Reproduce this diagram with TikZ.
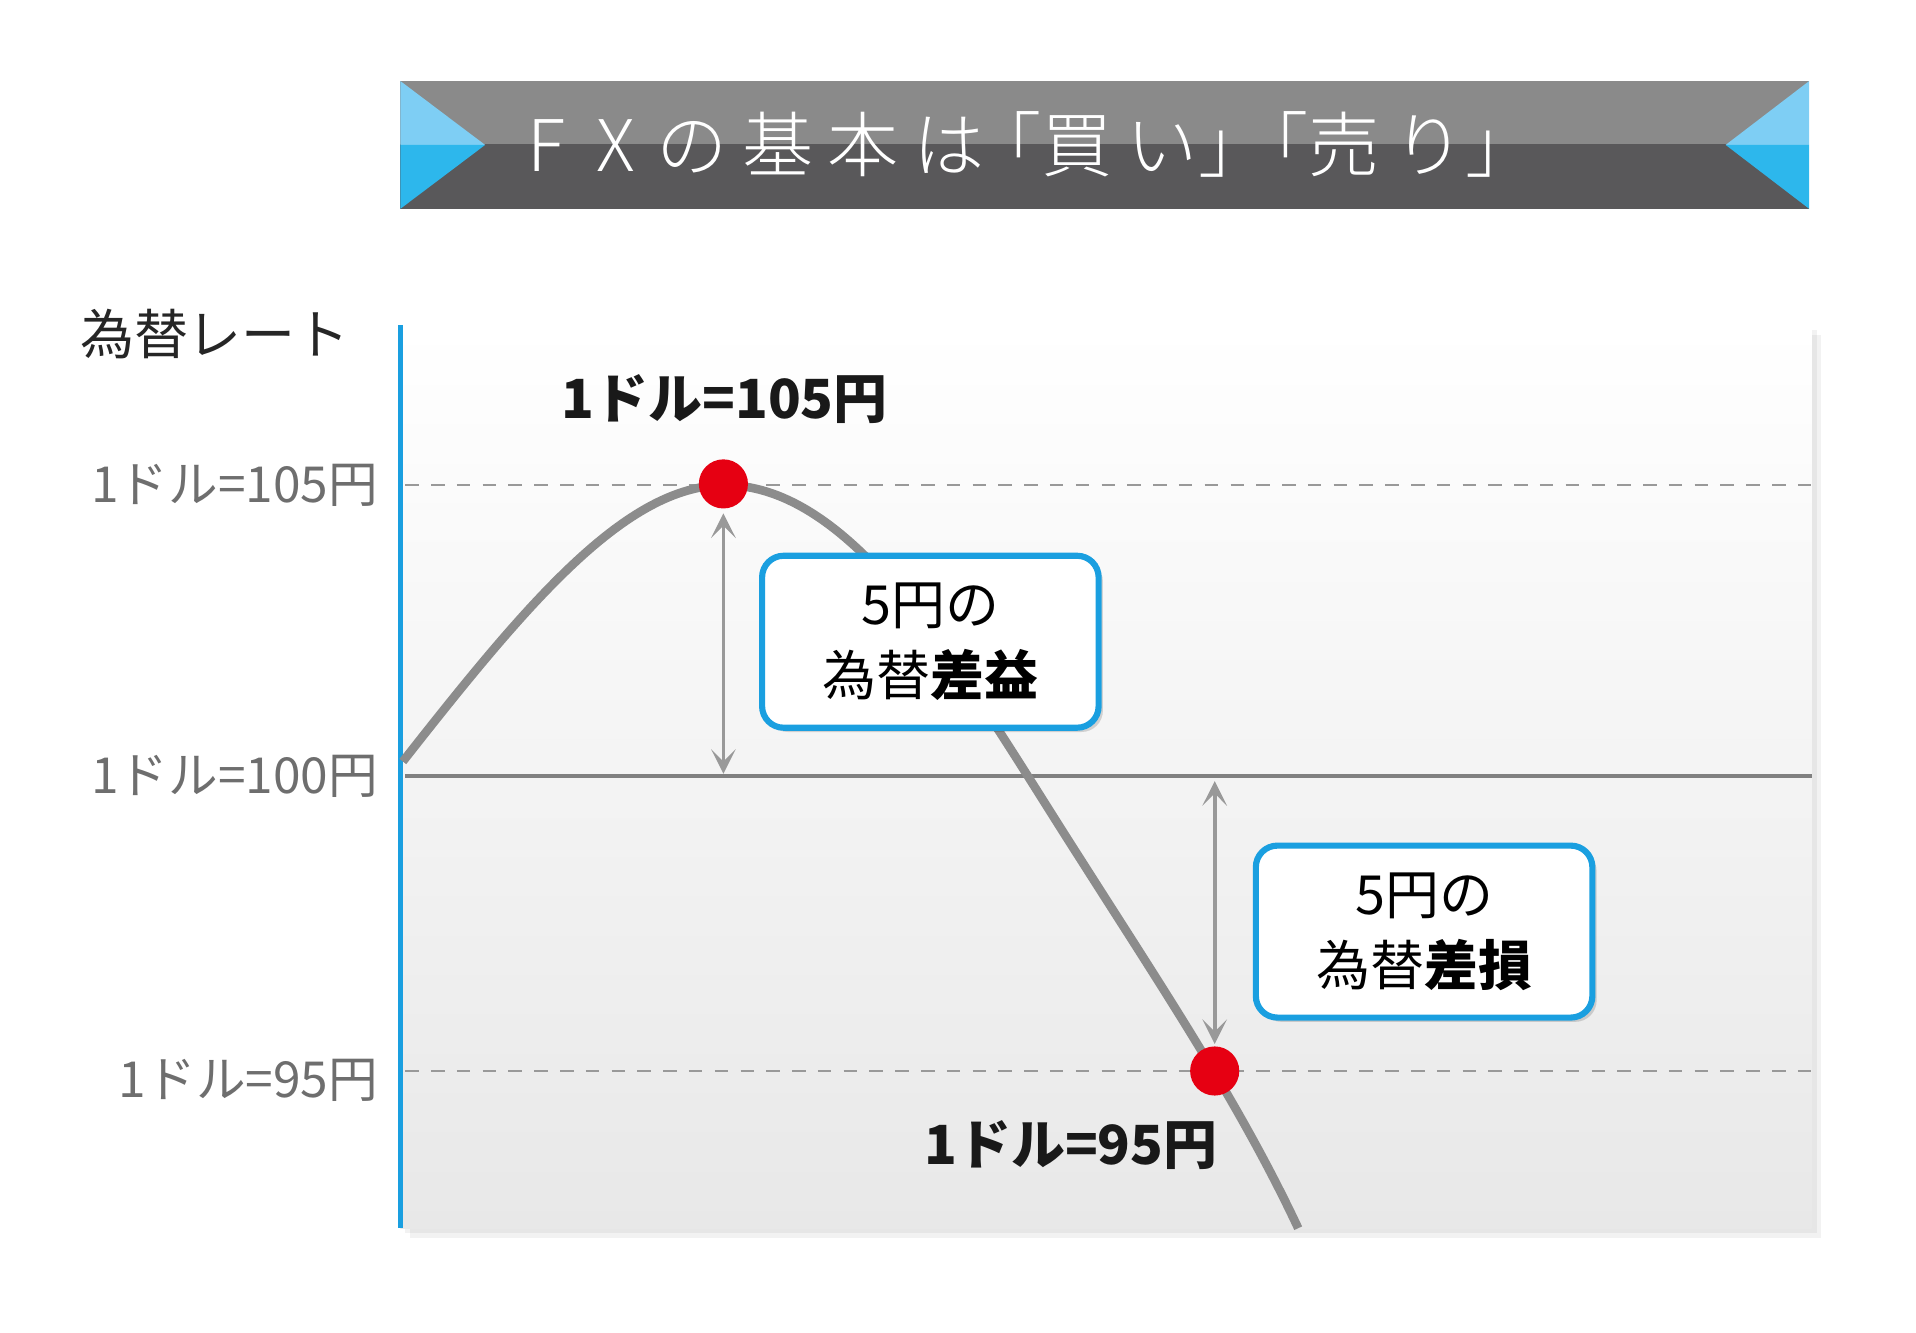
\documentclass[tikz,border=0pt]{standalone}
\usepackage{fontspec}
\setmainfont{Noto Sans CJK JP}
\newfontfamily\lightf{Noto Sans CJK JP Light}
\usetikzlibrary{arrows.meta}
\definecolor{cyanA}{HTML}{7ECEF4}
\definecolor{cyanB}{HTML}{2DB7EC}
\definecolor{barA}{HTML}{8A8A8A}
\definecolor{barB}{HTML}{59585A}
\definecolor{axisblue}{HTML}{1A9FE0}
\definecolor{curveg}{HTML}{8C8C8C}
\definecolor{tickg}{HTML}{6E6E6E}
\definecolor{reddot}{HTML}{E60012}
\tikzset{
  ticklab/.style={anchor=east,text=tickg,font=\fontsize{23}{24}\selectfont},
  vallab/.style={text=black!90,font=\fontsize{25}{26}\selectfont\bfseries},
  infobox/.style={draw=axisblue,line width=5*0.2mm,rounded corners=0.35cm,fill=white,minimum width=274*0.02cm,minimum height=140*0.02cm,align=center,font=\fontsize{25}{33}\selectfont,anchor=north west},
  dotr/.style={circle,fill=reddot,minimum size=40*0.02cm,inner sep=0},
  dimarrow/.style={draw=gray!80,line width=0.6mm,{Stealth[length=4mm,width=4mm,inset=2mm]}-{Stealth[length=4mm,width=4mm,inset=2mm]}}
}
\begin{document}
\begin{tikzpicture}[x=0.02cm,y=-0.02cm]
\useasboundingbox (0,0) rectangle (1560,1085.3);
% title bar
\fill[barA] (326,66) rectangle (1473,117);
\fill[barB] (326,117) rectangle (1473,170);
\fill[cyanA] (326,66) -- (395,118) -- (326,118) -- cycle;
\fill[cyanB] (326,118) -- (395,118) -- (326,170) -- cycle;
\fill[cyanA] (1473,66) -- (1405,118) -- (1473,118) -- cycle;
\fill[cyanB] (1473,118) -- (1405,118) -- (1473,170) -- cycle;
\node[text=white,font=\fontsize{33}{36}\selectfont\lightf] (title) at (840,118) {F\hspace{0.45em}X\hspace{0.3em}の\hspace{0.2em}基\hspace{0.2em}本\hspace{0.2em}は\hspace{-0.2em}「買\hspace{0.2em}い」\hspace{-0.45em}「売\hspace{0.2em}り」};
% chart background with shadow
\fill[black,opacity=0.05] (334,273) rectangle (1483,1008);
\fill[black,opacity=0.05] (330,269) rectangle (1479,1004);
\shade[top color=white,bottom color=black!9] (326,265) rectangle (1475,1000);
\draw[axisblue,line width=4*0.2mm] (326,265) -- (326,1000);
\node[font=\fontsize{25}{27}\selectfont,text=black!85] (ylab) at (175,272) {為替レート};
% grid lines
\draw[gray!80,line width=0.4mm,dash pattern=on 2.2mm off 2mm] (330,395) -- (1475,395);
\draw[gray!80,line width=0.4mm,dash pattern=on 2.2mm off 2mm] (330,872) -- (1475,872);
\draw[gray,line width=0.7mm] (330,632) -- (1475,632);
\node[ticklab] (t105) at (314,395) {1ドル=105円};
\node[ticklab] (t100) at (314,632) {1ドル=100円};
\node[ticklab] (t95) at (314,880) {1ドル=95円};
% curve
\draw[curveg,line width=7*0.2mm] (328,620) .. controls (430,490) and (510,395) .. (590,395) .. controls (700,395) and (790,560) .. (880,700) .. controls (950,810) and (1010,900) .. (1057,1000);
% arrows
\coordinate (a1) at (589,418); \coordinate (a2) at (589,630);
\coordinate (b1) at (989,636); \coordinate (b2) at (989,850);
\draw[dimarrow] (a1) -- (a2);
\draw[dimarrow] (b1) -- (b2);
\node[dotr] (p1) at (589,394) {};
\node[dotr] (p2) at (989,872) {};
\node[vallab] (v105) at (590,325) {1ドル=105円};
\node[vallab] (v95) at (872,932) {1ドル=95円};
% boxes
\fill[black,opacity=0.15,rounded corners=0.35cm] (624,456) rectangle (898,596);
\node[infobox] (box1) at (618,450) {5円の\\為替\textbf{差益}};
\fill[black,opacity=0.15,rounded corners=0.35cm] (1026,692) rectangle (1300,832);
\node[infobox] (box2) at (1020,686) {5円の\\為替\textbf{差損}};
\end{tikzpicture}
\end{document}
